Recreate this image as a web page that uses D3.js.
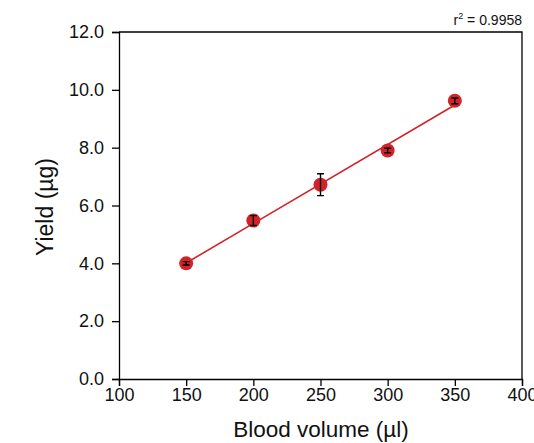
<!DOCTYPE html>
<html>
<head>
<meta charset="utf-8">
<script src="https://cdn.jsdelivr.net/npm/d3@7"></script>
<style>
  body { margin: 0; background: #fff; }
  text { font-family: "Liberation Sans", Arial, sans-serif; }
</style>
</head>
<body>
<svg id="chart" width="534" height="443"></svg>
<script>
var volumes = [150, 200, 250, 300, 350];
var yields = [4.0, 5.48, 6.72, 7.9, 9.62];
var errors = [0.06, 0.17, 0.38, 0.08, 0.1];
var xTicks = [100, 150, 200, 250, 300, 350, 400];
var yTicks = [0, 2, 4, 6, 8, 10, 12];
var r2Label = '0.9958';

var plotL = 119, plotR = 522, plotT = 32, plotB = 379;

var svg = d3.select('#chart');

var x = d3.scaleLinear().domain([100, 400]).range([plotL, plotR]);
var y = d3.scaleLinear().domain([0, 12]).range([plotB, plotT]);

// frame top and right
svg.append('path')
    .attr('d', 'M' + plotL + ',' + plotT + 'H' + plotR + 'V' + plotB)
    .attr('fill', 'none')
    .attr('stroke', '#000')
    .attr('stroke-width', 1.3);

var xAxis = svg.append('g')
    .attr('transform', 'translate(0,' + plotB + ')')
    .call(d3.axisBottom(x).tickValues(xTicks).tickSize(7).tickPadding(2));

var yAxis = svg.append('g')
    .attr('transform', 'translate(' + plotL + ',0)')
    .call(d3.axisLeft(y).tickValues(yTicks).tickSize(7).tickPadding(8)
        .tickFormat(d3.format('.1f')));

[xAxis, yAxis].forEach(function (a) {
    a.select('.domain').attr('stroke-width', 1.3);
    a.selectAll('.tick line').attr('stroke-width', 1.3);
    a.selectAll('text')
        .style('font-size', '18px')
        .style('font-family', '"Liberation Sans", Arial, sans-serif')
        .attr('fill', '#111');
});

// regression line
var mx = d3.mean(volumes), my = d3.mean(yields);
var sxy = d3.sum(volumes, function (v, i) { return (v - mx) * (yields[i] - my); });
var sxx = d3.sum(volumes, function (v) { return (v - mx) * (v - mx); });
var slope = sxy / sxx, icpt = my - slope * mx;
var x0 = d3.min(volumes), x1 = d3.max(volumes);

svg.append('line')
    .attr('x1', x(x0)).attr('y1', y(icpt + slope * x0))
    .attr('x2', x(x1)).attr('y2', y(icpt + slope * x1))
    .attr('stroke', '#d2232a')
    .attr('stroke-width', 1.6);

var pts = svg.append('g').selectAll('g')
    .data(volumes)
    .enter().append('g');

pts.append('circle')
    .attr('cx', function (d) { return x(d); })
    .attr('cy', function (d, i) { return y(yields[i]); })
    .attr('r', 7)
    .attr('fill', '#d2232a');

pts.append('path')
    .attr('d', function (d, i) {
        var cx = x(d), ya = y(yields[i] + errors[i]), yb = y(yields[i] - errors[i]);
        return 'M' + (cx - 3.5) + ',' + ya + 'H' + (cx + 3.5) +
            'M' + cx + ',' + ya + 'V' + yb +
            'M' + (cx - 3.5) + ',' + yb + 'H' + (cx + 3.5);
    })
    .attr('stroke', '#000')
    .attr('stroke-width', 1.4)
    .attr('fill', 'none');

// titles
svg.append('text')
    .attr('x', 321).attr('y', 437)
    .style('font-size', '22.5px')
    .attr('text-anchor', 'middle')
    .attr('fill', '#111')
    .text('Blood volume (µl)');

svg.append('text')
    .attr('transform', 'translate(53,207) rotate(-90)')
    .attr('text-anchor', 'middle')
    .style('font-size', '23px')
    .attr('fill', '#111')
    .text('Yield (µg)');

var r2 = svg.append('text')
    .attr('x', plotR).attr('y', 25)
    .attr('text-anchor', 'end')
    .style('font-size', '14px')
    .attr('fill', '#111');
r2.append('tspan').text('r');
r2.append('tspan').attr('dy', -6).style('font-size', '9px').text('2');
r2.append('tspan').attr('dy', 6).text(' = ' + r2Label);
</script>
</body>
</html>
